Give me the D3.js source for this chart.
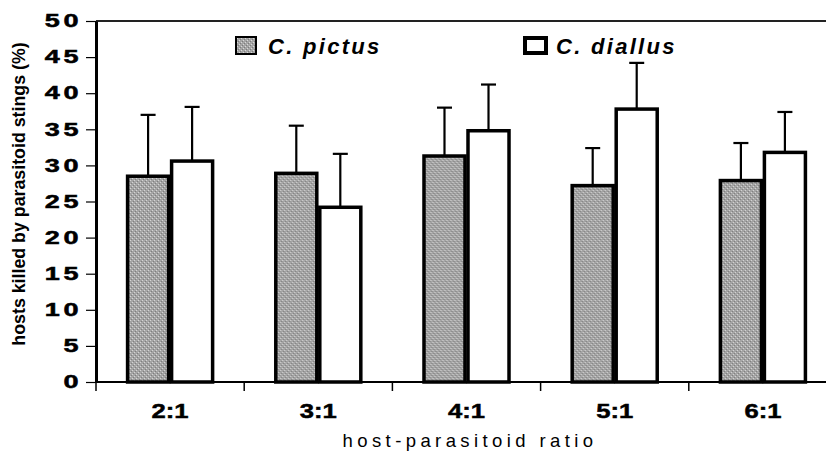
<!DOCTYPE html>
<html>
<head>
<meta charset="utf-8">
<script src="https://d3js.org/d3.v7.min.js"></script>
<style>
  body { margin: 0; background: #fff; }
  text { font-family: "Liberation Sans", Arial, sans-serif; }
</style>
</head>
<body>
<svg width="826" height="452"></svg>
<script>
// Data
const ratios = ["2:1", "3:1", "4:1", "5:1", "6:1"];
const series = ["C. pictus", "C. diallus"];
const pictus = [28.5, 28.9, 31.3, 27.2, 27.9];
const diallus = [30.6, 24.2, 34.8, 37.8, 31.8];
const pictusErr = [37.0, 35.5, 38.0, 32.4, 33.1];
const diallusErr = [38.1, 31.6, 41.2, 44.2, 37.4];
const yTicks = [0, 5, 10, 15, 20, 25, 30, 35, 40, 45, 50];

const svg = d3.select("svg");

// dotted grey fill like the scanned figure
const defs = svg.append("defs");
const pat = defs.append("pattern")
    .attr("id", "dots")
    .attr("width", 4).attr("height", 4)
    .attr("patternUnits", "userSpaceOnUse");
pat.append("rect").attr("width", 4).attr("height", 4).attr("fill", "#a4a4a4");
pat.append("rect").attr("x", 0).attr("y", 0).attr("width", 1).attr("height", 1).attr("fill", "#d8d8d8");
pat.append("rect").attr("x", 2).attr("y", 2).attr("width", 1).attr("height", 1).attr("fill", "#d8d8d8");
pat.append("rect").attr("x", 1).attr("y", 3).attr("width", 1).attr("height", 1).attr("fill", "#7c7c7c");
pat.append("rect").attr("x", 3).attr("y", 1).attr("width", 1).attr("height", 1).attr("fill", "#7c7c7c");

const mLeft = 96, mTop = 21, mBottom = 382, mRight = 837;

const y = d3.scaleLinear().domain([0, 50]).range([mBottom, mTop]);
const x = d3.scaleBand().domain(ratios).range([mLeft, mRight])
    .paddingInner(0.406).paddingOuter(0.203);
const xs = d3.scaleBand().domain(series).range([0, x.bandwidth()]);

const rows = ratios.map((r, i) => ({
  ratio: r,
  vals: [
    { s: series[0], v: pictus[i], e: pictusErr[i] },
    { s: series[1], v: diallus[i], e: diallusErr[i] }
  ]
}));

// top frame line
svg.append("line")
    .attr("x1", mLeft).attr("x2", 826)
    .attr("y1", mTop).attr("y2", mTop)
    .attr("stroke", "#222").attr("stroke-width", 2);

// error bars (upward only)
const groups = svg.append("g").selectAll("g")
  .data(rows).enter().append("g")
    .attr("transform", d => `translate(${x(d.ratio)},0)`);

groups.selectAll("g.err")
  .data(d => d.vals).enter().append("g")
    .attr("class", "err")
    .each(function(d) {
      const cx = xs(d.s) + xs.bandwidth() / 2;
      const g = d3.select(this);
      g.append("line")
        .attr("x1", cx).attr("x2", cx)
        .attr("y1", y(d.v)).attr("y2", y(d.e))
        .attr("stroke", "#000").attr("stroke-width", 2.2);
      g.append("line")
        .attr("x1", cx - 7.5).attr("x2", cx + 7.5)
        .attr("y1", y(d.e)).attr("y2", y(d.e))
        .attr("stroke", "#000").attr("stroke-width", 2.2);
    });

// bars
groups.selectAll("rect")
  .data(d => d.vals).enter().append("rect")
    .attr("x", d => xs(d.s) + 1.5)
    .attr("y", d => y(d.v))
    .attr("width", xs.bandwidth() - 3)
    .attr("height", d => mBottom - y(d.v))
    .attr("fill", d => d.s === series[0] ? "url(#dots)" : "#fff")
    .attr("stroke", "#000")
    .attr("stroke-width", 3.5);

// x axis line and ticks at category boundaries
svg.append("line")
    .attr("x1", mLeft).attr("x2", 826)
    .attr("y1", mBottom).attr("y2", mBottom)
    .attr("stroke", "#000").attr("stroke-width", 2);
const bounds = ratios.map(r => x(r) - x.step() * x.paddingInner() / 2);
svg.append("g").selectAll("line")
  .data(bounds).enter().append("line")
    .attr("x1", d => d).attr("x2", d => d)
    .attr("y1", mBottom).attr("y2", mBottom + 9)
    .attr("stroke", "#000").attr("stroke-width", 1.5);

// category labels: wide bold face, so stretch horizontally
svg.append("g").selectAll("text")
  .data(ratios).enter().append("text")
    .attr("transform", d => `translate(${x(d) + x.bandwidth() / 2},418) scale(1.22,1)`)
    .attr("text-anchor", "middle")
    .style("font-size", "21px")
    .style("font-weight", "bold")
    .style("stroke", "#000")
    .style("stroke-width", "0.5px")
    .text(d => d);

svg.append("text")
    .attr("x", 470).attr("y", 447)
    .attr("text-anchor", "middle")
    .style("font-size", "18.5px")
    .style("letter-spacing", "4.4px")
    .text("host-parasitoid ratio");

// y axis
const yAxis = d3.axisLeft(y).tickValues(yTicks).tickSize(10).tickSizeOuter(0);
const ya = svg.append("g")
    .attr("transform", `translate(${mLeft},0)`)
    .call(yAxis);
ya.select(".domain").attr("stroke-width", 3);
ya.selectAll(".tick line").attr("stroke-width", 1.2);
ya.selectAll(".tick text")
    .attr("x", -9.2)
    .attr("transform", "scale(1.5,1)")
    .style("font-family", "'Liberation Sans', Arial, sans-serif")
    .style("font-size", "18px")
    .style("font-weight", "bold")
    .style("letter-spacing", "2.5px")
    .style("stroke", "#000")
    .style("stroke-width", "0.5px")
    .attr("fill", "#000");

svg.append("text")
    .attr("transform", "translate(25,194) rotate(-90)")
    .attr("text-anchor", "middle")
    .style("font-size", "17.8px")
    .style("font-weight", "bold")
    .text("hosts killed by parasitoid stings (%)");

// legend
const legendX = [235, 523];
const leg = svg.append("g").selectAll("g")
  .data(series).enter().append("g")
    .attr("transform", (d, i) => `translate(${legendX[i]},36)`);
leg.append("rect")
    .attr("x", (d, i) => i === 0 ? 1 : 2)
    .attr("y", (d, i) => i === 0 ? 1 : 2)
    .attr("width", (d, i) => i === 0 ? 20 : 21)
    .attr("height", (d, i) => i === 0 ? 17 : 15)
    .attr("fill", (d, i) => i === 0 ? "url(#dots)" : "#fff")
    .attr("stroke", "#000")
    .attr("stroke-width", (d, i) => i === 0 ? 2 : 4);
leg.append("text")
    .attr("x", 33).attr("y", 18)
    .style("font-size", "22px")
    .style("font-weight", "bold")
    .style("font-style", "italic")
    .style("letter-spacing", "2.3px")
    .text(d => d);
</script>
</body>
</html>
